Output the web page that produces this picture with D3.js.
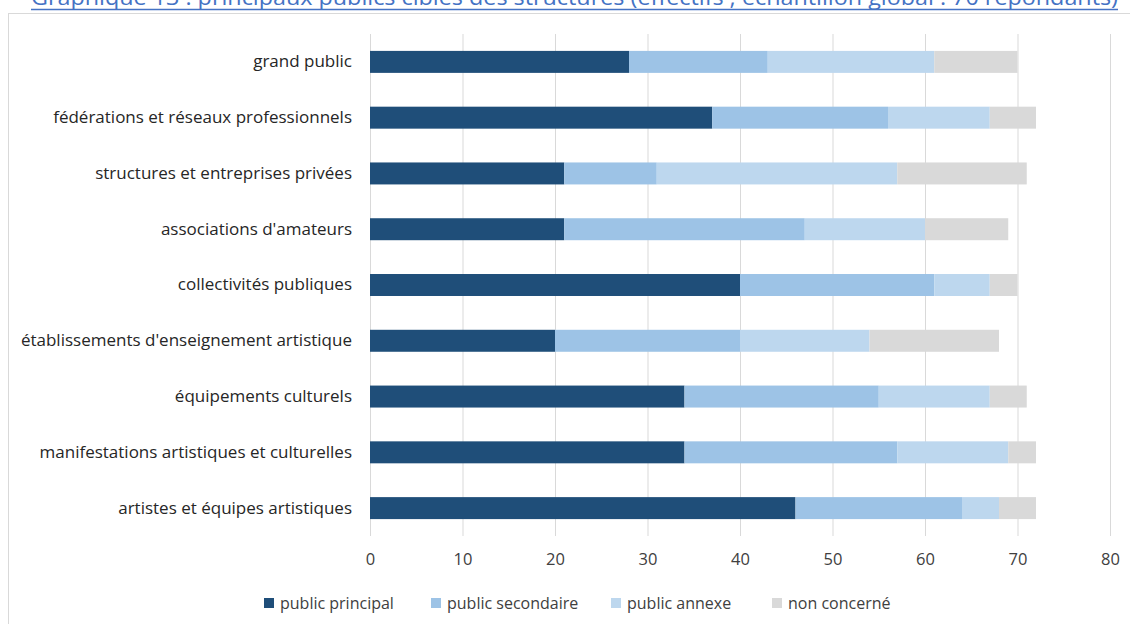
<!DOCTYPE html>
<html><head><meta charset="utf-8">
<script src="https://cdn.jsdelivr.net/npm/d3@7"></script>
<style>body{margin:0;background:#fff;}svg{display:block;}</style>
</head><body>
<svg id="c" width="1130" height="624"></svg>
<script>
const titleText = "Graphique 13 : principaux publics cibles des structures (effectifs ; échantillon global : 70 répondants)";
const categories = ["grand public","fédérations et réseaux professionnels","structures et entreprises privées","associations d'amateurs","collectivités publiques","établissements d'enseignement artistique","équipements culturels","manifestations artistiques et culturelles","artistes et équipes artistiques"];
const seriesNames = ["public principal","public secondaire","public annexe","non concerné"];
const principal   = [28,37,21,21,40,20,34,34,46];
const secondaire  = [15,19,10,26,21,20,21,23,18];
const annexe      = [18,11,26,13,6,14,12,12,4];
const nonConcerne = [9,5,14,9,3,14,4,3,4];
const xTicks = [0,10,20,30,40,50,60,70,80];
const colors = ["#1F4E79","#9DC3E6","#BDD7EE","#D9D9D9"];

const svg = d3.select("#c");
const font = "'Open Sans', 'Noto Sans', sans-serif";

// title (cut off at top, as in the reference)
svg.append("text").attr("x",31).attr("y",5).attr("font-family",font).attr("font-size",21)
  .attr("fill","#4472C4").attr("textLength",1087).attr("lengthAdjust","spacingAndGlyphs").text(titleText);
svg.append("line").attr("x1",31).attr("x2",1118).attr("y1",9.5).attr("y2",9.5).attr("stroke","#4472C4").attr("stroke-width",1.5);

// chart border
svg.append("rect").attr("x",8.5).attr("y",13.5).attr("width",1200).attr("height",700)
  .attr("fill","#fff").attr("stroke","#D9D9D9");

const x = d3.scaleLinear().domain([0,80]).range([370,1110]);
const y = d3.scaleBand().domain(categories).range([34,536]).paddingInner(0.606).paddingOuter(0.303);

// gridlines
svg.append("g").selectAll("line").data(xTicks).join("line")
  .attr("x1",d=>x(d)+0.5).attr("x2",d=>x(d)+0.5).attr("y1",34).attr("y2",536)
  .attr("stroke","#D9D9D9").attr("stroke-width",1);

const rows = categories.map((c,i)=>({cat:c, principal:principal[i], secondaire:secondaire[i], annexe:annexe[i], nonConcerne:nonConcerne[i]}));
const keys = ["principal","secondaire","annexe","nonConcerne"];
const stack = d3.stack().keys(keys)(rows);

svg.append("g").selectAll("g").data(stack).join("g").attr("fill",(d,i)=>colors[i])
  .selectAll("rect").data(d=>d).join("rect")
  .attr("x",d=>x(d[0])).attr("width",d=>x(d[1])-x(d[0]))
  .attr("y",d=>y(d.data.cat)).attr("height",y.bandwidth());

// y axis labels
const ya = svg.append("g").attr("transform","translate(370,0)")
  .call(d3.axisLeft(y).tickSize(0).tickPadding(18));
ya.select(".domain").remove();
ya.selectAll("text").attr("font-family",font).attr("font-size",17).attr("fill","#262626");

// x axis labels
const xa = svg.append("g").attr("transform","translate(0,553)")
  .call(d3.axisBottom(x).tickValues(xTicks).tickSize(0).tickPadding(0));
xa.select(".domain").remove();
xa.selectAll("text").attr("font-family",font).attr("font-size",16.5).attr("fill","#404040");

// legend
const legX = [264,431,611,772];
const lg = svg.append("g").selectAll("g").data(seriesNames).join("g")
  .attr("transform",(d,i)=>`translate(${legX[i]},598)`);
lg.append("rect").attr("width",10).attr("height",10).attr("fill",(d,i)=>colors[i]);
lg.append("text").attr("x",16).attr("y",5).attr("dy","0.35em").attr("font-family",font)
  .attr("font-size",16).attr("fill","#404040").text(d=>d);
</script>
</body></html>
